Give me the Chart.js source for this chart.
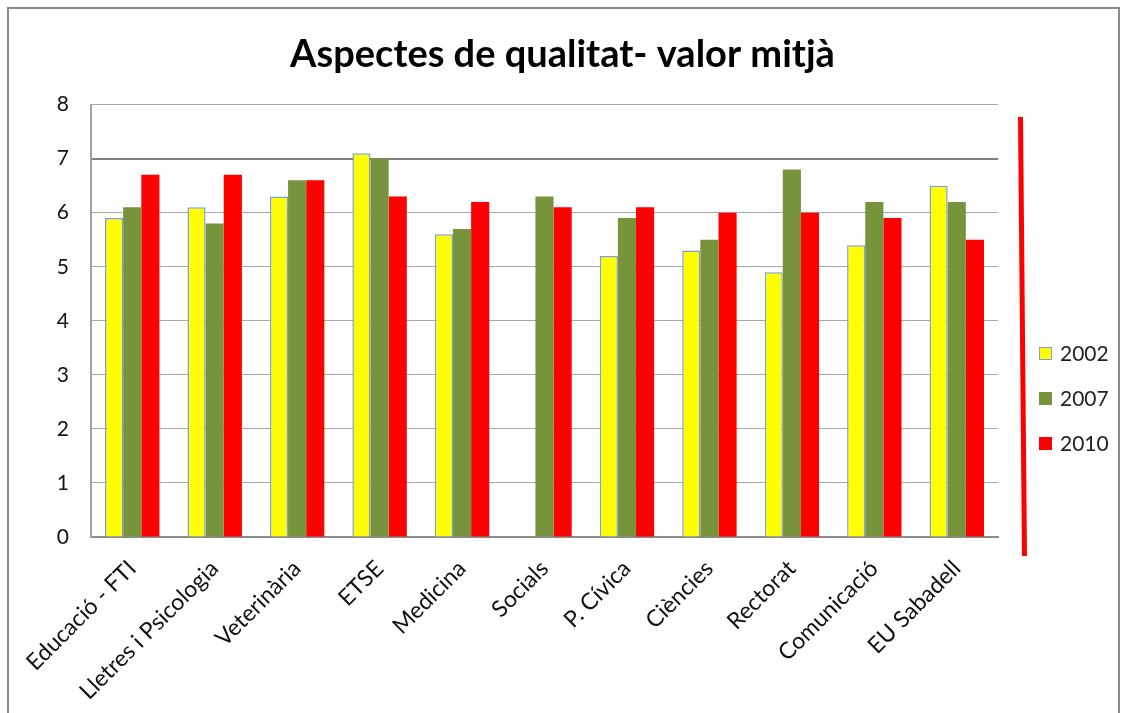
<!DOCTYPE html>
<html>
<head>
<meta charset="utf-8">
<script src="https://cdn.jsdelivr.net/npm/chart.js@4"></script>
<style>
  body { margin: 0; background: #fff; }
  #wrap { position: relative; width: 1125px; height: 713px; overflow: hidden; }
  #frame { position: absolute; left: 7px; top: 7px; width: 1109px; height: 720px; border: 2px solid #8a8a8a; }
  #redline { position: absolute; left: 1020px; top: 117px; width: 5px; height: 439px; background: #ff0000; transform: rotate(-0.52deg); }
  #legend { position: absolute; left: 1039px; top: 340px; font-family: Lato, sans-serif; font-size: 21px; color: #222; }
  #legend div { height: 45px; display: flex; align-items: flex-start; }
  #legend span.box { display: inline-block; width: 13px; height: 13px; margin: 7px 8px 0 0; box-sizing: border-box; }
  canvas { position: absolute; left: 0; top: 0; }
</style>
</head>
<body>
<div id="wrap">
  <canvas id="myChart" width="1125" height="713"></canvas>
  <div id="frame"></div>
  <div id="redline"></div>
  <div id="legend"></div>
</div>
<script>
// chart data
const categories = ['Educació - FTI', 'Lletres i Psicologia', 'Veterinària', 'ETSE', 'Medicina', 'Socials',
    'P. Cívica', 'Ciències', 'Rectorat', 'Comunicació', 'EU Sabadell'];
const years = ['2002', '2007', '2010'];
const values2002 = [5.9, 6.1, 6.3, 7.1, 5.6, null, 5.2, 5.3, 4.9, 5.4, 6.5];
const values2007 = [6.1, 5.8, 6.6, 7.0, 5.7, 6.3, 5.9, 5.5, 6.8, 6.2, 6.2];
const values2010 = [6.7, 6.7, 6.6, 6.3, 6.2, 6.1, 6.1, 6.0, 6.0, 5.9, 5.5];
const yTicks = [0, 1, 2, 3, 4, 5, 6, 7, 8];

const fills = ['#ffff00', '#77933c', '#ff0000'];
const borders = ['#7f9fd0', '#77933c', '#ff0000'];
const seriesValues = [values2002, values2007, values2010];

// html legend built from the series
const legendEl = document.getElementById('legend');
years.forEach(function(y, i) {
    const row = document.createElement('div');
    row.innerHTML = '<span class="box" style="background:' + fills[i] + ';border:1px solid ' + borders[i] + '"></span>' + y;
    legendEl.appendChild(row);
});

const ctx = document.getElementById('myChart').getContext('2d');
new Chart(ctx, {
    type: 'bar',
    data: {
        labels: categories,
        datasets: years.map(function(y, i) {
            return {
                label: y,
                data: seriesValues[i],
                backgroundColor: fills[i],
                borderColor: borders[i],
                borderWidth: i === 0 ? 1.5 : 0,
                categoryPercentage: 0.66,
                barPercentage: 1.0
            };
        })
    },
    options: {
        responsive: false,
        animation: false,
        layout: { padding: 0 },
        plugins: {
            legend: { display: false },
            tooltip: { enabled: false },
            title: {
                display: true,
                text: 'Aspectes de qualitat- valor mitjà',
                color: '#000',
                font: { family: 'Lato', size: 38, weight: 'bold', lineHeight: 1.2 },
                padding: { top: 32, bottom: 27 }
            }
        },
        scales: {
            x: {
                grid: { display: false },
                border: { color: '#8c8c8c', width: 2 },
                ticks: {
                    color: '#111',
                    font: { family: 'Lato', size: 23 },
                    maxRotation: 45,
                    minRotation: 45,
                    padding: 10
                },
                afterFit: function(s) { s.height = 176; }
            },
            y: {
                min: 0,
                max: 8,
                afterBuildTicks: function(s) { s.ticks = yTicks.map(function(v) { return { value: v }; }); },
                grid: {
                    color: function(c) { return c.tick && c.tick.value === 7 ? '#808080' : '#a8a8a8'; },
                    lineWidth: function(c) { return c.tick && c.tick.value === 7 ? 2 : 1; },
                    drawTicks: false
                },
                border: { color: '#a0a0a0', width: 2 },
                ticks: {
                    color: '#111',
                    font: { family: 'Lato', size: 21 },
                    padding: 22
                },
                afterFit: function(s) { s.width = 91; }
            },
            // empty right axis that keeps room for the legend and red line
            yRight: {
                position: 'right',
                display: true,
                grid: { display: false, drawTicks: false },
                border: { display: false },
                ticks: { display: false },
                afterFit: function(s) { s.width = 127; }
            }
        }
    }
});
</script>
</body>
</html>
